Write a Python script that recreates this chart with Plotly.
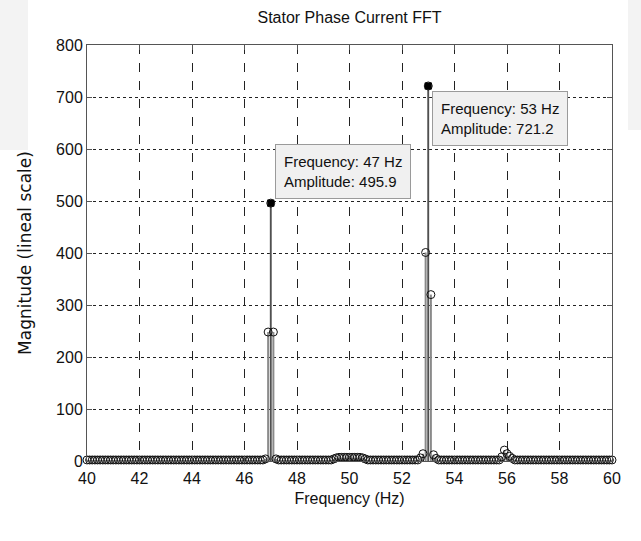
import numpy as np
import plotly.graph_objects as go

# Spectrum bins (Hz) and magnitudes read from the FFT
freq_start, freq_stop, freq_step = 40.0, 60.0, 0.1
floor_level = 2.0
# bins that rise above the noise floor
raised_freqs = [46.8, 46.9, 47.0, 47.1, 47.2,
                49.4, 49.5, 49.6, 49.7, 49.8, 49.9, 50.0, 50.1, 50.2, 50.3, 50.4, 50.5, 50.6,
                52.7, 52.8, 52.9, 53.0, 53.1, 53.2, 53.3,
                55.8, 55.9, 56.0, 56.1, 56.2]
raised_mags = [4.0, 248.0, 495.9, 248.0, 4.0,
               4.0, 6.0, 7.0, 7.0, 7.0, 7.0, 7.0, 7.0, 7.0, 7.0, 7.0, 6.0, 4.0,
               6.0, 14.0, 401.0, 721.2, 320.0, 12.0, 5.0,
               8.0, 21.0, 14.0, 9.0, 5.0]

# data tips shown on the two dominant peaks
tip_freqs = [47, 53]
tip_mags = [495.9, 721.2]

title_text = "Stator Phase Current FFT"
x_title = "Frequency (Hz)"
y_title = "Magnitude (lineal scale)"
x_ticks = [40, 42, 44, 46, 48, 50, 52, 54, 56, 58, 60]
y_ticks = [0, 100, 200, 300, 400, 500, 600, 700, 800]

freqs = np.round(np.arange(freq_start, freq_stop + freq_step / 2, freq_step), 1)
mags = np.full(freqs.shape, floor_level)
for f, m in zip(raised_freqs, raised_mags):
    mags[np.argmin(np.abs(freqs - f))] = m

narrow = "Liberation Sans Narrow, Liberation Sans, Arial, sans-serif"


def stem_xy(xs, ys):
    sx, sy = [], []
    for a, b in zip(xs, ys):
        sx += [a, a, None]
        sy += [0, b, None]
    return sx, sy


fig = go.Figure()

sx, sy = stem_xy(freqs, mags)
fig.add_trace(go.Scatter(x=sx, y=sy, mode="lines",
                         line=dict(color="#8a8a8a", width=2), hoverinfo="skip"))
px_, py_ = stem_xy(tip_freqs, tip_mags)
fig.add_trace(go.Scatter(x=px_, y=py_, mode="lines",
                         line=dict(color="#4a4a4a", width=1.3), hoverinfo="skip"))
fig.add_trace(go.Scatter(x=freqs, y=mags, mode="markers", cliponaxis=False,
                         marker=dict(symbol="circle-open", size=8, color="#111111",
                                     line=dict(width=1))))
fig.add_trace(go.Scatter(x=tip_freqs, y=tip_mags, mode="markers",
                         marker=dict(symbol="square", size=7, color="black")))

# data tip boxes
tip_font = dict(family=narrow, size=15, color="#111111")
fig.add_annotation(x=tip_freqs[0], y=tip_mags[0], xref="x", yref="y",
                   text=f"Frequency: {tip_freqs[0]} Hz<br>Amplitude: {tip_mags[0]}",
                   showarrow=False, xanchor="left", yanchor="bottom",
                   xshift=4, yshift=4, align="left",
                   bgcolor="#f0f0f0", bordercolor="#9a9a9a", borderwidth=1, borderpad=8,
                   font=tip_font)
fig.add_annotation(x=tip_freqs[1], y=tip_mags[1], xref="x", yref="y",
                   text=f"Frequency: {tip_freqs[1]} Hz<br>Amplitude: {tip_mags[1]}",
                   showarrow=False, xanchor="left", yanchor="top",
                   xshift=4, yshift=-5, align="left",
                   bgcolor="#f0f0f0", bordercolor="#9a9a9a", borderwidth=1, borderpad=8,
                   font=tip_font)

W, H = 641, 541
ml, mr, mt, mb = 87, 29, 45, 80
pw, ph = W - ml - mr, H - mt - mb


def px_to_paper(x0, y0, x1, y1):
    return dict(x0=(x0 - ml) / pw, x1=(x1 - ml) / pw,
                y0=(H - mb - y0) / ph, y1=(H - mb - y1) / ph)


# light grey page edges
for r in [(0, 0, 28, 150), (628, 0, 641, 130)]:
    fig.add_shape(type="rect", xref="paper", yref="paper", layer="below",
                  line=dict(width=0), fillcolor="#f3f3f3", **px_to_paper(*r))

fig.update_layout(
    width=W, height=H,
    margin=dict(l=ml, r=mr, t=mt, b=mb),
    paper_bgcolor="white", plot_bgcolor="white",
    showlegend=False,
    title=dict(text=title_text, x=(ml + pw / 2) / W, xanchor="center",
               y=1 - 17 / H, yanchor="middle",
               font=dict(family=narrow, size=16, color="#111111")),
)
fig.update_xaxes(range=[freq_start, freq_stop], tickvals=x_ticks,
                 showgrid=True, gridcolor="#222222", griddash="dash", gridwidth=1,
                 showline=True, linecolor="#555555", linewidth=1, mirror="ticks",
                 ticks="inside", ticklen=5, tickcolor="#555555",
                 zeroline=False, ticklabelstandoff=3,
                 tickfont=dict(family=narrow, size=16, color="#111111"),
                 title=dict(text=x_title, standoff=6,
                            font=dict(family=narrow, size=16, color="#111111")))
fig.update_yaxes(range=[0, 800], tickvals=y_ticks,
                 showgrid=True, gridcolor="#222222", griddash="dot", gridwidth=1,
                 showline=True, linecolor="#555555", linewidth=1, mirror="ticks",
                 ticks="inside", ticklen=5, tickcolor="#555555",
                 zeroline=False,
                 tickfont=dict(family=narrow, size=16, color="#111111"),
                 title=dict(text=y_title, standoff=20,
                            font=dict(family="DejaVu Sans", size=17, color="#111111")))

fig.write_html("out.html")
